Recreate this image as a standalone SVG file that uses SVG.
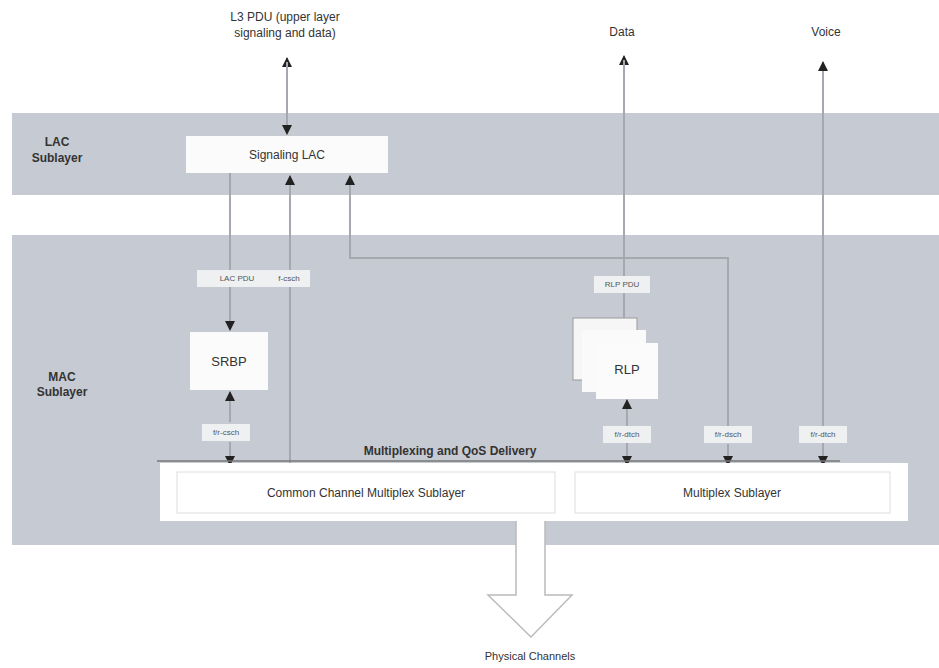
<svg xmlns="http://www.w3.org/2000/svg" width="939" height="668" viewBox="0 0 939 668">
<defs>
<style>
text{font-family:"Liberation Sans",Arial,sans-serif;fill:#333}
.band{fill:#c6cad2}
.box{fill:#fbfbfb}
.lbl{fill:#eef0f2}
.ln{stroke:#a5a8ae;stroke-width:2;fill:none}
.sm{font-size:8px;fill:#555}
.hd{font-size:12px;font-weight:bold}
</style>
<marker id="ah" viewBox="0 0 10 10" refX="9" refY="5" markerWidth="11" markerHeight="10" markerUnits="userSpaceOnUse" orient="auto"><path d="M0,0 L10,5 L0,10 z" fill="#222"/></marker>
</defs>
<rect width="939" height="668" fill="#fff"/>
<g id="lac-band"><rect class="band" x="12" y="113" width="927" height="82"/><text class="hd" x="57" y="146" text-anchor="middle">LAC</text><text class="hd" x="57" y="162" text-anchor="middle">Sublayer</text></g>
<g id="mac-band"><rect class="band" x="12" y="235" width="927" height="310"/><text class="hd" x="62" y="381" text-anchor="middle">MAC</text><text class="hd" x="62" y="396" text-anchor="middle">Sublayer</text></g>
<g id="top-labels">
<text x="285" y="21" font-size="12" text-anchor="middle">L3 PDU (upper layer</text>
<text x="285" y="37" font-size="12" text-anchor="middle">signaling and data)</text>
<text x="622" y="36" font-size="12" text-anchor="middle">Data</text>
<text x="826" y="36" font-size="12" text-anchor="middle">Voice</text>
</g>
<g id="connectors">
<line class="ln" x1="287" y1="133" x2="287" y2="58" marker-end="url(#ah)"/>
<line class="ln" x1="287" y1="62" x2="287" y2="134" marker-end="url(#ah)"/>
<line class="ln" x1="230" y1="173" x2="230" y2="330" marker-end="url(#ah)"/>
<line class="ln" x1="290" y1="463" x2="290" y2="176" marker-end="url(#ah)"/>
<polyline class="ln" points="728,433 728,258 350,258 350,176" marker-end="url(#ah)"/>
<line class="ln" x1="230" y1="422" x2="230" y2="392" marker-end="url(#ah)"/>
<line class="ln" x1="230" y1="442" x2="230" y2="465" marker-end="url(#ah)"/>
<line class="ln" x1="624" y1="342" x2="624" y2="56" marker-end="url(#ah)"/>
<line class="ln" x1="624" y1="60" x2="624" y2="331" marker-end="url(#ah)"/>
<line class="ln" x1="627" y1="464" x2="627" y2="400" marker-end="url(#ah)"/>
<line class="ln" x1="627" y1="444" x2="627" y2="465" marker-end="url(#ah)"/>
<line class="ln" x1="728" y1="444" x2="728" y2="465" marker-end="url(#ah)"/>
<line class="ln" x1="823" y1="464" x2="823" y2="62" marker-end="url(#ah)"/>
<line class="ln" x1="823" y1="444" x2="823" y2="465" marker-end="url(#ah)"/>
<line x1="157" y1="461" x2="840" y2="461" stroke="#777" stroke-width="1.5"/>
<text x="450" y="455" font-size="12" font-weight="bold" text-anchor="middle">Multiplexing and QoS Delivery</text>
</g>
<g id="signaling-lac"><rect class="box" x="186" y="136" width="202" height="37"/><text x="287" y="159" font-size="12" text-anchor="middle">Signaling LAC</text></g>
<g id="label-lacpdu"><rect class="lbl" x="197" y="270" width="80" height="17"/><text class="sm" x="237" y="281" text-anchor="middle">LAC PDU</text></g>
<g id="label-fcsch"><rect class="lbl" x="268" y="270" width="42" height="17"/><text class="sm" x="289" y="281" text-anchor="middle">f-csch</text></g>
<g id="srbp"><rect class="box" x="190" y="332" width="78" height="58"/><text x="229" y="366" font-size="13" text-anchor="middle">SRBP</text></g>
<g id="label-frcsch"><rect class="lbl" x="202" y="424" width="48" height="17"/><text class="sm" x="226" y="435" text-anchor="middle">f/r-csch</text></g>
<g id="label-rlppdu"><rect class="lbl" x="594" y="276" width="56" height="17"/><text class="sm" x="622" y="287" text-anchor="middle">RLP PDU</text></g>
<g id="rlp">
<rect x="573" y="318" width="64" height="62" fill="#f6f6f6" stroke="#999" stroke-width="1"/>
<rect x="582" y="330" width="64" height="62" fill="#fafafa"/>
<rect x="596" y="343" width="62" height="56" class="box"/>
<text x="627" y="374" font-size="13" text-anchor="middle">RLP</text>
</g>
<g id="label-frdtch1"><rect class="lbl" x="603" y="426" width="48" height="17"/><text class="sm" x="627" y="437" text-anchor="middle">f/r-dtch</text></g>
<g id="label-frdsch"><rect class="lbl" x="704" y="426" width="48" height="17"/><text class="sm" x="728" y="437" text-anchor="middle">f/r-dsch</text></g>
<g id="label-frdtch2"><rect class="lbl" x="799" y="426" width="48" height="17"/><text class="sm" x="823" y="437" text-anchor="middle">f/r-dtch</text></g>
<g id="mux">
<rect x="160" y="463" width="748" height="58" fill="#fff"/>
<rect x="177" y="472" width="378" height="41" fill="#fff" stroke="#ddd"/>
<text x="366" y="497" font-size="12" text-anchor="middle">Common Channel Multiplex Sublayer</text>
<rect x="575" y="472" width="315" height="41" fill="#fff" stroke="#ddd"/>
<text x="732" y="497" font-size="12" text-anchor="middle">Multiplex Sublayer</text>
</g>
<g id="physical">
<path d="M516,521 L516,595 L488,595 L531,637 L572,595 L545,595 L545,521" fill="#fff" stroke="#bbb" stroke-width="1.5"/>
<text x="530" y="660" font-size="11" text-anchor="middle">Physical Channels</text>
</g>
</svg>
